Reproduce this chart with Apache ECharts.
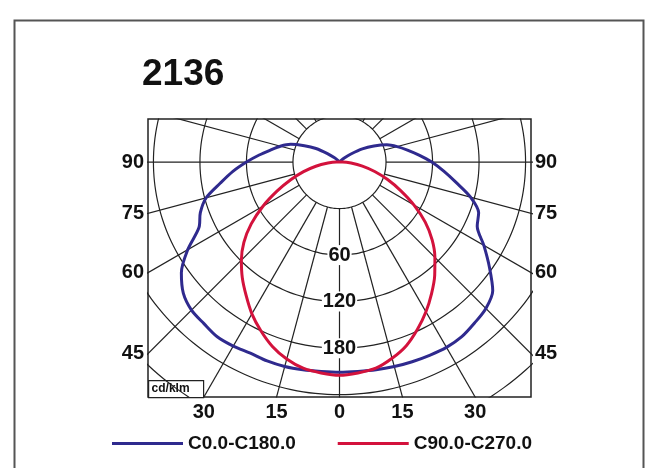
<!DOCTYPE html>
<html>
<head>
<meta charset="utf-8">
<script src="https://cdn.jsdelivr.net/npm/echarts@6/dist/echarts.min.js"></script>
<style>
	html, body { margin: 0; padding: 0; background: #fff; }
	#ldc { width: 659px; height: 468px; }
</style>
</head>
<body>
<div id="ldc"></div>
<script>
// gamma angles (deg from nadir) and intensities in cd/klm
var gammaAngles = [0,5,10,15,20,25,30,35,40,45,50,55,60,65,70,75,80,85,90,95,100,105,110,115,120,125,130,135,140,145,150,155,160,165,170,175,180];
var c0Values   = [271,271,272,273,274,275,276,275,271,267,258,236,215,196,191,175,153,135,119,103,89,77,65,49,34,18,8,2,0,0,0,0,0,0,0,0,0];
var c180Values = [271,271,272,273,273,272,274,275,272,270,263,249,226,200,191,178,156,138,120,104,90,79,67,50,35,19,9,3,0,0,0,0,0,0,0,0,0];
var c90Values  = [275,273,270,262,252,238,223,207,191,174,156,135,111,87,66,47,30,15,4,0,0,0,0,0,0,0,0,0,0,0,0,0,0,0,0,0,0];
var c270Values = [275,273,270,263,253,240,226,210,195,179,161,139,114,89,67,48,31,15,4,0,0,0,0,0,0,0,0,0,0,0,0,0,0,0,0,0,0];

var ringStep = 60;
var ringLabels = ['', '', '60', '120', '180'];
var sideAngles = [90, 75, 60, 45];
var bottomAngles = [-30, -15, 0, 15, 30];
var legendNames = ['C0.0-C180.0', 'C90.0-C270.0'];

var xMax = 247, yMax = 55.5, yMin = -303;
var gridColor = '#222';
var numFont = { fontFamily: 'Liberation Sans, Arial, sans-serif', fontWeight: 'bold', fontSize: 20, color: '#111', opacity: 1 };

function rad(a) { return a * Math.PI / 180; }
function pt(r, a) { return [r * Math.sin(rad(a)), -r * Math.cos(rad(a))]; }

// curve: left half (negative x) from 180 down to 0, then right half 0 -> 180
function curve(leftVals, rightVals) {
	var data = [];
	for (var i = gammaAngles.length - 1; i >= 0; i--) data.push(pt(leftVals[i], -gammaAngles[i]));
	for (var j = 1; j < gammaAngles.length; j++) data.push(pt(rightVals[j], gammaAngles[j]));
	return data;
}

var series = [];
// rings
for (var k = 1; k <= 7; k++) {
	var ring = [];
	for (var a = 0; a <= 360; a += 3) ring.push(pt(k * ringStep, a));
	series.push({ type: 'line', data: ring, symbol: 'none', silent: true, smooth: true,
		lineStyle: { color: gridColor, width: 1.2 } });
}
// radial lines every 15 deg, starting at the first ring
for (var s = 0; s < 360; s += 15) {
	series.push({ type: 'line', data: [pt(ringStep, s), pt(600, s)], symbol: 'none', silent: true,
		lineStyle: { color: gridColor, width: 1.2 } });
}
series.push({
	name: legendNames[0], type: 'line', data: curve(c180Values, c0Values), symbol: 'none', smooth: 0.3,
	lineStyle: { color: '#2f2a8e', width: 3 }, itemStyle: { color: '#2f2a8e' }, z: 5
});
series.push({
	name: legendNames[1], type: 'line', data: curve(c270Values, c90Values), symbol: 'none', smooth: 0.3,
	lineStyle: { color: '#d3123c', width: 3 }, itemStyle: { color: '#d3123c' }, z: 6
});

// ring value labels along nadir
var ringLabelData = [];
for (var m = 0; m < ringLabels.length; m++) {
	if (ringLabels[m]) ringLabelData.push({ value: [0, -m * ringStep], name: ringLabels[m] });
}
var labelItem = { opacity: 1, color: '#111' };
series.push({
	type: 'scatter', data: ringLabelData, symbolSize: 0, silent: true, z: 8, itemStyle: labelItem,
	label: Object.assign({ show: true, position: 'inside', formatter: '{b}', backgroundColor: '#fff', padding: [0, 1] }, numFont)
});

// angle labels where radial lines meet the box edges
var leftLab = [], rightLab = [], bottomLab = [];
for (var n = 0; n < sideAngles.length; n++) {
	var t = Math.tan(rad(sideAngles[n]));
	leftLab.push({ value: [-xMax, -xMax / t], name: String(sideAngles[n]) });
	rightLab.push({ value: [xMax, -xMax / t], name: String(sideAngles[n]) });
}
for (var b = 0; b < bottomAngles.length; b++) {
	bottomLab.push({ value: [-yMin * Math.tan(rad(bottomAngles[b])), yMin], name: String(Math.abs(bottomAngles[b])) });
}
series.push({ type: 'scatter', data: leftLab, symbolSize: 0, silent: true, clip: false, itemStyle: labelItem,
	label: Object.assign({ show: true, position: 'left', distance: 4, formatter: '{b}' }, numFont) });
series.push({ type: 'scatter', data: rightLab, symbolSize: 0, silent: true, clip: false, itemStyle: labelItem,
	label: Object.assign({ show: true, position: 'right', distance: 4, formatter: '{b}' }, numFont) });
series.push({ type: 'scatter', data: bottomLab, symbolSize: 0, silent: true, clip: false, itemStyle: labelItem,
	label: Object.assign({ show: true, position: 'bottom', distance: 5, formatter: '{b}' }, numFont) });

var myChart = echarts.init(document.getElementById('ldc'));

option = {
	animation: false,
	backgroundColor: '#fff',
	title: {
		text: '2136', left: 142, top: 56, padding: 0,
		textStyle: { fontFamily: 'Liberation Sans, Arial, sans-serif', fontWeight: 'bold', fontSize: 37, color: '#111' }
	},
	legend: {
		data: legendNames, left: 112, top: 434, padding: 0, itemWidth: 71, itemHeight: 3, itemGap: 42, icon: 'rect',
		textStyle: { fontFamily: 'Liberation Sans, Arial, sans-serif', fontWeight: 'bold', fontSize: 19, color: '#111' }
	},
	grid: { left: 148, top: 119, width: 383, height: 278, show: true, borderColor: '#222', borderWidth: 1.5 },
	xAxis: { type: 'value', min: -xMax, max: xMax, show: false },
	yAxis: { type: 'value', min: yMin, max: yMax, show: false },
	graphic: [
		{ type: 'rect', left: 12, top: 18, z: 0, shape: { width: 629, height: 470 },
			style: { fill: 'none', stroke: '#555', lineWidth: 2 } },
		{ type: 'group', left: 148, top: 380, z: 100, children: [
			{ type: 'rect', shape: { width: 55, height: 17 }, style: { fill: '#fff', stroke: '#222', lineWidth: 1.2 } },
			{ type: 'text', left: 3, top: 2, style: { text: 'cd/klm', fill: '#111', font: 'bold 12px Liberation Sans, Arial, sans-serif' } }
		] }
	],
	series: series
};

myChart.setOption(option);

window.addEventListener('resize', function() {
	myChart.resize();
});
</script>
</body>
</html>
